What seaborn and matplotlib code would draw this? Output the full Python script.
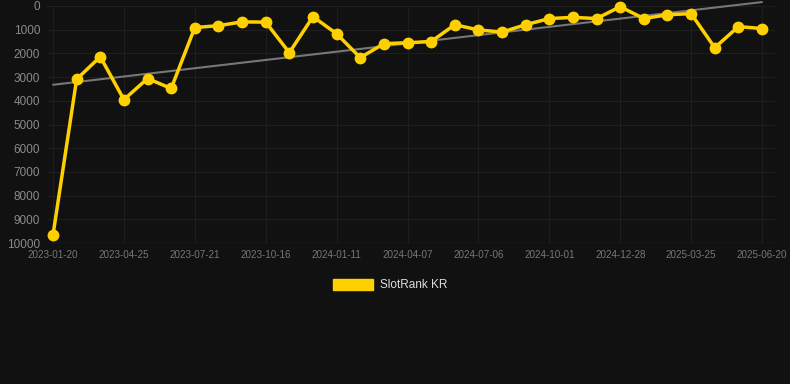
import numpy as np
import pandas as pd
import matplotlib
matplotlib.use('Agg')
import matplotlib.pyplot as plt
import matplotlib.patches as mpatches
import seaborn as sns

# ranks (lower = better, axis is inverted)
ranks = [9660, 3090, 2140, 3950, 3060, 3480, 910, 830, 670, 680,
         1970, 450, 1170, 2180, 1590, 1550, 1500, 790, 1010, 1100,
         790, 530, 480, 530, 30, 530, 370, 320, 1760, 870, 950]
tick_labels = ['2023-01-20', '2023-04-25', '2023-07-21', '2023-10-16', '2024-01-11',
               '2024-04-07', '2024-07-06', '2024-10-01', '2024-12-28', '2025-03-25',
               '2025-06-20']
series_name = 'SlotRank KR'

df = pd.DataFrame({'step': np.arange(len(ranks)), 'rank': ranks})

bg = '#111111'
gold = '#FFD000'

sns.set_style('dark')
plt.rcParams['font.family'] = ['Liberation Sans', 'DejaVu Sans']

fig = plt.figure(figsize=(7.9, 3.84), dpi=100, facecolor=bg)
ax = fig.add_axes([47 / 790, 1 - 243 / 384, (775 - 47) / 790, (243 - 6) / 384])
ax.set_facecolor(bg)

# trend line
sns.regplot(data=df, x='step', y='rank', scatter=False, ci=None, ax=ax, truncate=True,
            line_kws=dict(color='#777777', lw=1.5, zorder=2, clip_on=False))

sns.lineplot(data=df, x='step', y='rank', ax=ax, color=gold, lw=2.5,
             marker='o', markersize=8.5, markeredgewidth=0, zorder=3, clip_on=False)

ax.set_xlim(-0.254, 30.55)
ax.set_ylim(10000, 0)
ax.set_yticks(np.arange(0, 10001, 1000))
ax.set_xticks(np.arange(0, len(ranks), 3))
ax.set_xticklabels(tick_labels)
ax.tick_params(axis='y', colors='#8a8a8a', labelsize=8.5, length=0, pad=5)
ax.tick_params(axis='x', colors='#777777', labelsize=7.1, length=0, pad=5)
for lbl in ax.get_yticklabels():
    lbl.set_color('#8a8a8a')
for lbl in ax.get_xticklabels():
    lbl.set_color('#777777')

ax.grid(True, color='#1e1e1e', lw=0.8)
ax.set_xlabel('')
ax.set_ylabel('')
for s in ax.spines.values():
    s.set_visible(False)
ax.axhline(10000, color='#2a2a2a', lw=1, zorder=1)

handle = mpatches.Patch(color=gold, label=series_name)
fig.legend(handles=[handle], loc='center', bbox_to_anchor=(390 / 790, 1 - 285 / 384),
           frameon=False, fontsize=8.5, labelcolor='#dddddd',
           handlelength=3.4, handleheight=1.1, handletextpad=0.6)

fig.savefig('out.png', dpi=100, facecolor=bg)
